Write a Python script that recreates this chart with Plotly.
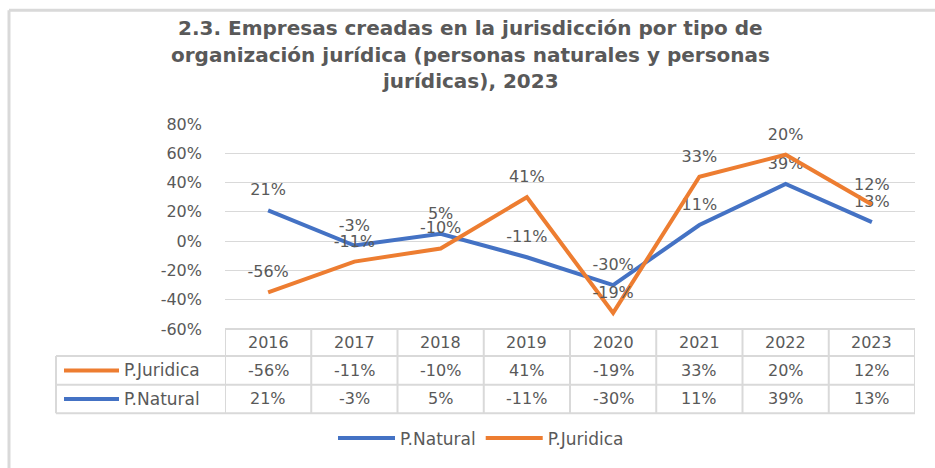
import plotly.graph_objects as go

# ---------------- data ----------------
years = ["2016", "2017", "2018", "2019", "2020", "2021", "2022", "2023"]
natural = [0.21, -0.03, 0.05, -0.11, -0.30, 0.11, 0.39, 0.13]
juridica = [-0.56, -0.11, -0.10, 0.41, -0.19, 0.33, 0.20, 0.12]
y_tick_vals = [-0.6, -0.4, -0.2, 0.0, 0.2, 0.4, 0.6, 0.8]
y_tick_text = ["-60%", "-40%", "-20%", "0%", "20%", "40%", "60%", "80%"]
title_lines = ["2.3. Empresas creadas en la jurisdicción por tipo de",
               "organización jurídica (personas naturales y personas",
               "jurídicas), 2023"]

def pct(v):
    return f"{round(v * 100):d}%"

nat_lbl = [pct(v) for v in natural]
jur_lbl = [pct(v) for v in juridica]

BLUE = "#4472C4"
ORANGE = "#ED7D31"
TXT = "#595959"
GRID = "#D9D9D9"
FONT = "DejaVu Sans"

W, H = 935, 468
L, R, T, B = 225, 20, 124, 136
PW, PH = W - L - R, H - T - B


def px(x):
    return (x - L) / PW


def py(y):
    return (H - B - y) / PH


fig = go.Figure()

fig.add_trace(go.Scatter(
    x=years, y=natural, name="P.Natural", stackgroup="s", fill="none",
    mode="lines+markers+text", line=dict(color=BLUE, width=4),
    marker=dict(size=16, opacity=0, color=BLUE),
    text=nat_lbl, textposition="top center", cliponaxis=False,
    textfont=dict(family=FONT, size=16, color=TXT), showlegend=False,
))
fig.add_trace(go.Scatter(
    x=years, y=juridica, name="P.Juridica", stackgroup="s", fill="none",
    mode="lines+markers+text", line=dict(color=ORANGE, width=4),
    marker=dict(size=16, opacity=0, color=ORANGE),
    text=jur_lbl, textposition="top center", cliponaxis=False,
    textfont=dict(family=FONT, size=16, color=TXT), showlegend=False,
))
# legend entries
fig.add_trace(go.Scatter(x=[None], y=[None], mode="lines", name="P.Natural",
                         line=dict(color=BLUE, width=4)))
fig.add_trace(go.Scatter(x=[None], y=[None], mode="lines", name="P.Juridica",
                         line=dict(color=ORANGE, width=4)))

shapes = []
ann = []

# chart frame (left + top border)
shapes.append(dict(type="line", xref="paper", yref="paper",
                   x0=px(9), x1=px(W + 5), y0=py(8.5), y1=py(8.5),
                   line=dict(color=GRID, width=3)))
shapes.append(dict(type="line", xref="paper", yref="paper",
                   x0=px(9), x1=px(9), y0=py(8.5), y1=py(H + 5),
                   line=dict(color=GRID, width=3)))

# data table geometry
row_top = [332, 359.5, 388.5]
row_bot = 417.5
tbl_left = 56
TL = dict(color=GRID, width=2)
shapes.append(dict(type="line", xref="paper", yref="paper", x0=0, x1=1,
                   y0=py(row_top[0]), y1=py(row_top[0]), line=TL))
for yy in row_top[1:] + [row_bot]:
    shapes.append(dict(type="line", xref="paper", yref="paper", x0=px(tbl_left), x1=1,
                       y0=py(yy), y1=py(yy), line=TL))
shapes.append(dict(type="line", xref="paper", yref="paper", x0=px(tbl_left), x1=px(tbl_left),
                   y0=py(row_top[1]), y1=py(row_bot), line=TL))
for i in range(len(years) + 1):
    shapes.append(dict(type="line", xref="x", yref="paper", x0=i - 0.5, x1=i - 0.5,
                       y0=py(row_top[0]), y1=py(row_bot), line=TL))

row_mid = [(row_top[0] + row_top[1]) / 2, (row_top[1] + row_top[2]) / 2,
           (row_top[2] + row_bot) / 2]
cell_font = dict(family=FONT, size=16, color=TXT)
for i, yr in enumerate(years):
    for txt, ym in [(yr, row_mid[0]), (jur_lbl[i], row_mid[1]), (nat_lbl[i], row_mid[2])]:
        ann.append(dict(x=i, y=py(ym), xref="x", yref="paper", text=txt,
                        xanchor="center", yanchor="middle", showarrow=False, font=cell_font))

for name, col, ym in [("P.Juridica", ORANGE, row_mid[1]), ("P.Natural", BLUE, row_mid[2])]:
    shapes.append(dict(type="line", xref="paper", yref="paper", x0=px(64), x1=px(119),
                       y0=py(ym), y1=py(ym),
                       line=dict(color=col, width=4)))
    ann.append(dict(x=px(122), y=py(ym), xref="paper", yref="paper", text=name,
                    xanchor="left", yanchor="middle", showarrow=False,
                    font=dict(family=FONT, size=17, color=TXT)))

# title (three centred lines)
for line, yc in zip(title_lines, [27, 54, 80]):
    ann.append(dict(x=px(470), y=py(yc), xref="paper", yref="paper", text=line,
                    xanchor="center", yanchor="middle", showarrow=False,
                    font=dict(family="DejaVu Sans", size=20, color=TXT, weight="bold")))

fig.update_layout(
    width=W, height=H,
    margin=dict(l=L, r=R, t=T, b=B, pad=0),
    paper_bgcolor="white", plot_bgcolor="white",
    shapes=shapes, annotations=ann,
    showlegend=True,
    legend=dict(orientation="h", x=px(481), xanchor="center", y=py(443), yanchor="middle",
                font=dict(family=FONT, size=17, color=TXT), itemwidth=57,
                bgcolor="rgba(0,0,0,0)"),
    xaxis=dict(type="category", range=[-0.5, len(years) - 0.5], showticklabels=False,
               showgrid=False, zeroline=False, showline=False, ticks=""),
    yaxis=dict(range=[-0.6, 0.8], tickvals=y_tick_vals, ticktext=y_tick_text,
               showgrid=True, gridcolor=GRID, gridwidth=1, zeroline=False, showline=False,
               tickfont=dict(family=FONT, size=16, color=TXT), ticks="",
               ticklabelstandoff=22),
)

fig.write_html("out.html", config={"displayModeBar": False},
               post_script="document.body.style.margin='0';document.body.style.overflow='hidden';")
